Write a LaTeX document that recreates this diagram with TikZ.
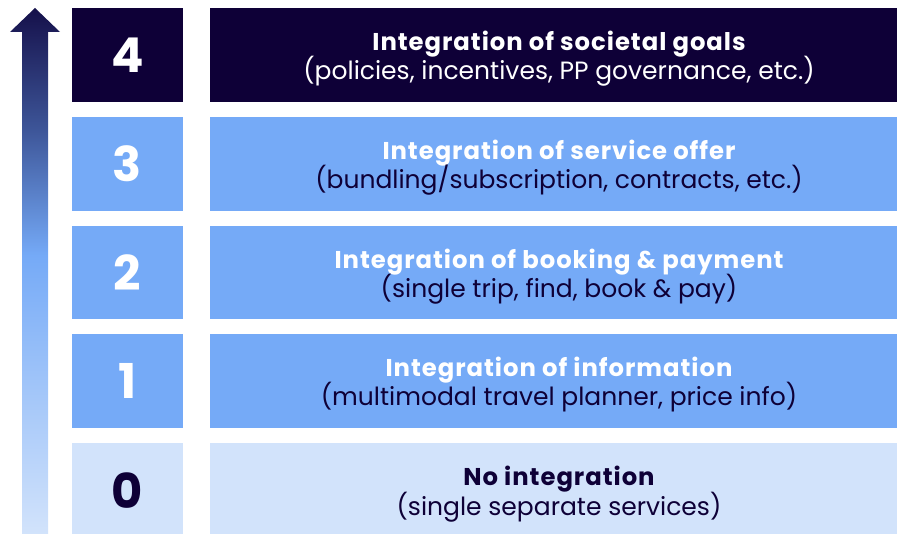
\documentclass[tikz,border=0pt]{standalone}
\usepackage{fontspec}
\setmainfont{Poppins}
\definecolor{navy}{HTML}{0E0037}
\definecolor{midblue}{HTML}{75AAF7}
\definecolor{lightblue}{HTML}{D2E3FB}
\definecolor{steel}{HTML}{3D5598}
\definecolor{arrowtop}{HTML}{15104A}
\pgfdeclareverticalshading{arrowshade}{100bp}{color(0bp)=(lightblue); color(25bp)=(lightblue); color(51.5bp)=(midblue); color(63.5bp)=(steel); color(75bp)=(arrowtop); color(100bp)=(arrowtop)}
\begin{document}
\begin{tikzpicture}[x=1pt,y=-1pt,
  numbox/.style={minimum width=111pt,minimum height=93.5pt,inner sep=0pt,anchor=north west},
  numtxt/.style={anchor=base,inner sep=0pt,font=\fontsize{48}{48}\selectfont\bfseries},
  widebox/.style={minimum width=687pt,minimum height=93.5pt,inner sep=0pt,anchor=north west},
  ttl/.style={anchor=base,inner sep=0pt,font=\fontsize{24.3}{29}\selectfont\bfseries\addfontfeatures{LetterSpace=4}},
  sub/.style={anchor=base,inner sep=0pt,font=\fontsize{25}{29}\selectfont},
]
\useasboundingbox (0,0) rectangle (897,534);
% arrow
\shade[shading=arrowshade]
  (22,534) -- (22,32) -- (10,32) -- (35,8) -- (60,32) -- (48,32) -- (48,534) -- cycle;
% rows
\foreach \n/\t/\fc/\nc/\tc/\sc/\ti/\su in {
  4/8/navy/white/white/white/{Integration of societal goals}/{(policies, incentives, PP governance, etc.)},
  3/117/midblue/white/white/navy/{Integration of service offer}/{(bundling\slash subscription, contracts, etc.)},
  2/225.5/midblue/white/white/navy/{Integration of booking \& payment}/{(single trip, find, book \& pay)},
  1/334/midblue/white/white/navy/{Integration of information}/{(multimodal travel planner, price info)},
  0/443/lightblue/navy/navy/navy/{No integration}/{(single separate services)}}
{
  \node[numbox,fill=\fc] (num\n) at (72,\t) {};
  \node[numtxt,text=\nc] (numt\n) at (127.5,\t+65) {\n};
  \node[widebox,fill=\fc] (box\n) at (210,\t) {};
  \node[ttl,text=\tc] (ttl\n) at (559,\t+42.7) {\ti};
  \node[sub,text=\sc] (sub\n) at (559,\t+72) {\su};
}
\end{tikzpicture}
\end{document}
